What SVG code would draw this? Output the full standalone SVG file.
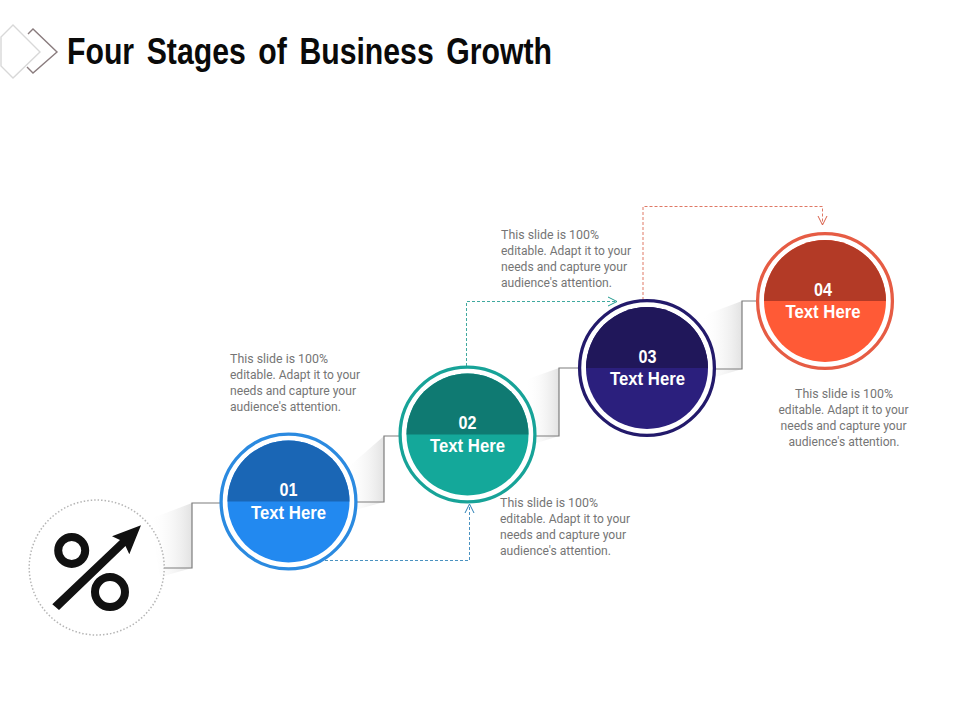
<svg xmlns="http://www.w3.org/2000/svg" width="960" height="720" viewBox="0 0 960 720">
<style>
.title{font-family:"Liberation Sans",Arial,sans-serif;font-weight:700;font-size:36px;fill:#0a0a0a;word-spacing:5px}
.body{font-family:Roboto,"Liberation Sans",sans-serif;font-size:12.5px;fill:#757575}
.num{font-family:"Liberation Sans",Arial,sans-serif;font-weight:700;font-size:18px;fill:#fff;text-anchor:middle}
.lbl{font-family:"Liberation Sans",Arial,sans-serif;font-weight:700;font-size:18px;fill:#fff;text-anchor:middle}
.stair{fill:none;stroke:#7d7d7d;stroke-width:1.2}
.dash{fill:none;stroke-width:1;stroke-dasharray:3 2;stroke-opacity:.85}
.head{fill:none;stroke-width:1}
.ring{fill:#fff;stroke-width:3.300}
</style>
<defs>
<linearGradient id="shade" x1="0" y1="0" x2="1" y2="0">
<stop offset="0" stop-color="#fff" stop-opacity="0"/>
<stop offset="1" stop-color="#e2e2e2"/>
</linearGradient>
<clipPath id="top1"><rect x="210" y="425" width="160" height="76.500"/></clipPath>
<clipPath id="top2"><rect x="390" y="358" width="160" height="76.500"/></clipPath>
<clipPath id="top3"><rect x="570" y="292" width="160" height="76"/></clipPath>
<clipPath id="top4"><rect x="748" y="225" width="160" height="76"/></clipPath>
</defs>
<rect width="960" height="720" fill="#fff"/>

<g id="logo" fill="none" stroke-width="1.400">
<polyline points="28,34 33,29 57,52 33,73 27,67" stroke="#8a7c7e"/>
<polygon points="1,37 13,25 40,52 13,78 1,66" stroke="#d8d8d8"/>
</g>
<text id="title" class="title" x="67" y="64" textLength="485" lengthAdjust="spacingAndGlyphs">Four Stages of Business Growth</text>

<g id="stairs">
<polygon points="150,519 192,503 192,568 160,577" fill="url(#shade)"/>
<polygon points="345,470 384,436 384,502 355,510" fill="url(#shade)"/>
<polygon points="525,380 559,368 559,436 530,445" fill="url(#shade)"/>
<polygon points="702,316 742,301 742,369 712,378" fill="url(#shade)"/>
<polyline class="stair" points="164,568 192,568 192,503 220,503"/>
<polyline class="stair" points="357,502 384,502 384,436 399,436"/>
<polyline class="stair" points="536,436 559,436 559,368 578,368"/>
<polyline class="stair" points="715,369 742,369 742,301 757,301"/>
</g>

<g id="connectors">
<polyline class="dash" stroke="#2a7fb5" points="325,560.500 469.500,560.500 469.500,505"/>
<polyline class="head" stroke="#2a7fb5" points="465,513 469.500,504 474,513"/>
<polyline class="dash" stroke="#1f9a8e" points="466.500,366 466.500,301.500 617,301.500"/>
<polyline class="head" stroke="#1f9a8e" points="608,297 617,301.500 608,306"/>
<polyline class="dash" stroke="#d9604a" points="643,300 643,206.500 822.500,206.500 822.500,225"/>
<polyline class="head" stroke="#d9604a" points="818,216 822.500,225 827,216"/>
</g>

<g id="icon">
<circle cx="96.700" cy="567.500" r="67.500" fill="none" stroke="#b5b5b5" stroke-width="1.500" stroke-dasharray="1.500 2"/>
<circle cx="71.700" cy="550.500" r="13.500" fill="none" stroke="#111" stroke-width="8"/>
<circle cx="110" cy="592" r="15" fill="none" stroke="#111" stroke-width="8"/>
<polygon points="52.300,604.300 59,610 125.500,546 129.300,554.300 141,525.300 112,536.300 120,540" fill="#111"/>
</g>

<g id="node1">
<circle class="ring" cx="288.500" cy="501.500" r="67.400" stroke="#2b8ae0"/>
<circle cx="288.500" cy="501.500" r="61" fill="#2289f0"/>
<circle cx="288.500" cy="501.500" r="61" fill="#1a66b5" clip-path="url(#top1)"/>
<text class="num" x="288.500" y="496" textLength="18" lengthAdjust="spacingAndGlyphs">01</text>
<text class="lbl" x="288.500" y="518.500" textLength="75" lengthAdjust="spacingAndGlyphs">Text Here</text>
</g>
<text class="body" id="t1"><tspan x="230" y="363" textLength="98" lengthAdjust="spacingAndGlyphs">This slide is 100%</tspan><tspan x="230" y="379" textLength="130" lengthAdjust="spacingAndGlyphs">editable. Adapt it to your</tspan><tspan x="230" y="395" textLength="126" lengthAdjust="spacingAndGlyphs">needs and capture your</tspan><tspan x="230" y="411" textLength="111" lengthAdjust="spacingAndGlyphs">audience's attention.</tspan></text>

<g id="node2">
<circle class="ring" cx="467.500" cy="434.500" r="67.400" stroke="#17a398"/>
<circle cx="467.500" cy="434.500" r="61" fill="#14a89a"/>
<circle cx="467.500" cy="434.500" r="61" fill="#0f7a72" clip-path="url(#top2)"/>
<text class="num" x="467.500" y="429" textLength="18" lengthAdjust="spacingAndGlyphs">02</text>
<text class="lbl" x="467.500" y="451.500" textLength="75" lengthAdjust="spacingAndGlyphs">Text Here</text>
</g>
<text class="body" id="t2"><tspan x="500" y="507" textLength="98" lengthAdjust="spacingAndGlyphs">This slide is 100%</tspan><tspan x="500" y="523" textLength="130" lengthAdjust="spacingAndGlyphs">editable. Adapt it to your</tspan><tspan x="500" y="539" textLength="126" lengthAdjust="spacingAndGlyphs">needs and capture your</tspan><tspan x="500" y="555" textLength="111" lengthAdjust="spacingAndGlyphs">audience's attention.</tspan></text>

<g id="node3">
<circle class="ring" cx="647" cy="368" r="67.400" stroke="#231a6b"/>
<circle cx="647" cy="368" r="61" fill="#2b1f7d"/>
<circle cx="647" cy="368" r="61" fill="#20175a" clip-path="url(#top3)"/>
<text class="num" x="647.500" y="362.500" textLength="18" lengthAdjust="spacingAndGlyphs">03</text>
<text class="lbl" x="647.500" y="385" textLength="75" lengthAdjust="spacingAndGlyphs">Text Here</text>
</g>
<text class="body" id="t3"><tspan x="501" y="239" textLength="98" lengthAdjust="spacingAndGlyphs">This slide is 100%</tspan><tspan x="501" y="255" textLength="130" lengthAdjust="spacingAndGlyphs">editable. Adapt it to your</tspan><tspan x="501" y="271" textLength="126" lengthAdjust="spacingAndGlyphs">needs and capture your</tspan><tspan x="501" y="287" textLength="111" lengthAdjust="spacingAndGlyphs">audience's attention.</tspan></text>

<g id="node4">
<circle class="ring" cx="825" cy="301" r="67.400" stroke="#e65c44"/>
<circle cx="825" cy="301" r="61" fill="#ff5a36"/>
<circle cx="825" cy="301" r="61" fill="#b33a26" clip-path="url(#top4)"/>
<text class="num" x="823" y="295.500" textLength="18" lengthAdjust="spacingAndGlyphs">04</text>
<text class="lbl" x="823" y="318" textLength="75" lengthAdjust="spacingAndGlyphs">Text Here</text>
</g>
<text class="body" id="t4" text-anchor="middle"><tspan x="844" y="398" textLength="98" lengthAdjust="spacingAndGlyphs">This slide is 100%</tspan><tspan x="843.500" y="414" textLength="130" lengthAdjust="spacingAndGlyphs">editable. Adapt it to your</tspan><tspan x="843.500" y="430" textLength="126" lengthAdjust="spacingAndGlyphs">needs and capture your</tspan><tspan x="844" y="446" textLength="111" lengthAdjust="spacingAndGlyphs">audience's attention.</tspan></text>
</svg>
